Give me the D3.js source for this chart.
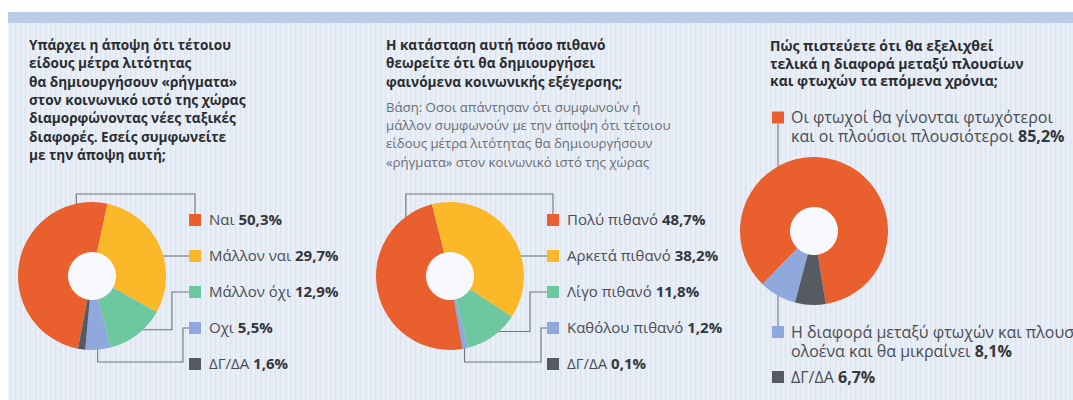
<!DOCTYPE html>
<html>
<head>
<meta charset="utf-8">
<script src="https://cdn.jsdelivr.net/npm/d3@7"></script>
<style>
  body { margin: 0; background: #fff; }
  svg { display: block; }
</style>
</head>
<body>
<script>
// data
var q1Title = ["Υπάρχει η άποψη ότι τέτοιου", "είδους μέτρα λιτότητας", "θα δημιουργήσουν «ρήγματα»",
               "στον κοινωνικό ιστό της χώρας", "διαμορφώνοντας νέες ταξικές", "διαφορές. Εσείς συμφωνείτε",
               "με την άποψη αυτή;"];
var q1Labels = ["Ναι", "Μάλλον ναι", "Μάλλον όχι", "Οχι", "ΔΓ/ΔΑ"];
var q1Values = [50.3, 29.7, 12.9, 5.5, 1.6];

var q2Title = ["Η κατάσταση αυτή πόσο πιθανό", "θεωρείτε ότι θα δημιουργήσει", "φαινόμενα κοινωνικής εξέγερσης;"];
var q2Note = ["Βάση: Οσοι απάντησαν ότι συμφωνούν ή", "μάλλον συμφωνούν με την άποψη ότι τέτοιου",
              "είδους μέτρα λιτότητας θα δημιουργήσουν", "«ρήγματα» στον κοινωνικό ιστό της χώρας"];
var q2Labels = ["Πολύ πιθανό", "Αρκετά πιθανό", "Λίγο πιθανό", "Καθόλου πιθανό", "ΔΓ/ΔΑ"];
var q2Values = [48.7, 38.2, 11.8, 1.2, 0.1];

var q3Title = ["Πώς πιστεύετε ότι θα εξελιχθεί", "τελικά η διαφορά μεταξύ πλουσίων", "και φτωχών τα επόμενα χρόνια;"];
var q3Labels = [["Οι φτωχοί θα γίνονται φτωχότεροι", "και οι πλούσιοι πλουσιότεροι"],
                ["Η διαφορά μεταξύ φτωχών και πλουσίων", "ολοένα και θα μικραίνει"],
                ["ΔΓ/ΔΑ"]];
var q3Values = [85.2, 8.1, 6.7];

var colors5 = ["#e9602e", "#fbb829", "#6dc79f", "#8fa9dd", "#565b61"];
var colors3 = ["#e9602e", "#8fa9dd", "#565b61"];

var width = 1073, height = 400;
var R = 74, r0 = 24;
var font = "'Open Sans', sans-serif";
var gr = d3.formatLocale({decimal: ",", thousands: ".", grouping: [3], currency: ["", "€"]});
var fmt = function(v) { return gr.format(".1f")(v) + "%"; };
var rad = Math.PI / 180;

var svg = d3.select("body").append("svg")
    .attr("width", width)
    .attr("height", height);

// striped paper background
var pat = svg.append("defs").append("pattern")
    .attr("id", "stripes")
    .attr("patternUnits", "userSpaceOnUse")
    .attr("width", 5).attr("height", 10);
pat.append("rect").attr("width", 5).attr("height", 10).attr("fill", "#e6ecf5");
pat.append("rect").attr("x", 0).attr("width", 1).attr("height", 10).attr("fill", "#dde5f0");
pat.append("rect").attr("x", 3).attr("width", 1).attr("height", 10).attr("fill", "#edf1f8");

svg.append("rect").attr("x", 8).attr("y", 12).attr("width", width - 8).attr("height", height - 12)
    .attr("fill", "url(#stripes)");
svg.append("rect").attr("x", 8).attr("y", 12).attr("width", width - 8).attr("height", 11)
    .attr("fill", "#bacbe6");

var arc = d3.arc().innerRadius(r0).outerRadius(R);

function titleBlock(x, y, lines, step, size, weight, color) {
  var t = svg.append("text")
      .attr("x", x).attr("y", y)
      .attr("font-family", font)
      .attr("font-size", size)
      .attr("font-weight", weight)
      .attr("fill", color);
  t.selectAll("tspan").data(lines).join("tspan")
      .attr("x", x)
      .attr("y", function(d, i) { return y + i * step; })
      .text(function(d) { return d; });
}

function legendText(x, y, lines, value, size, step) {
  var t = svg.append("text")
      .attr("font-family", font)
      .attr("font-size", size)
      .attr("fill", "#4a4d52");
  lines.forEach(function(l, i) {
    t.append("tspan").attr("x", x).attr("y", y + i * step).attr("dy", "0.35em").text(l + " ");
    if (i == lines.length - 1) {
      t.append("tspan").attr("font-weight", 700).attr("fill", "#33363a").text(fmt(value));
    }
  });
}

var line = svg.append("g")
    .attr("fill", "none")
    .attr("stroke", "#70747c")
    .attr("stroke-width", 1.1);

function donut(cx, cy, arcs, colors) {
  var g = svg.append("g").attr("transform", "translate(" + cx + "," + cy + ")");
  g.append("circle").attr("r", r0 + 1).attr("fill", "#f7f9fc");
  g.selectAll("path").data(arcs).join("path")
      .attr("d", arc)
      .attr("fill", function(d, i) { return colors[i]; });
}

// first two panels share the same layout: donut + 5 legend rows
function fivePanel(cx, cy, start, labels, values, lx) {
  var pie = d3.pie().sort(null).startAngle(start * rad).endAngle(start * rad + 2 * Math.PI);
  var arcs = pie(values);
  donut(cx, cy, arcs, colors5);

  var ly = d3.scaleLinear().domain([0, 4]).range([220, 364]);
  var sq = 12, sx = lx;

  svg.append("g").selectAll("rect").data(values).join("rect")
      .attr("x", sx).attr("y", function(d, i) { return ly(i) - sq / 2; })
      .attr("width", sq).attr("height", sq)
      .attr("fill", function(d, i) { return colors5[i]; });

  labels.forEach(function(l, i) { legendText(sx + 20, ly(i), [l], values[i], 15, 19); });

  var pt = function(a, rr) { return [cx + rr * Math.sin(a), cy - rr * Math.cos(a)]; };
  var mid = function(d) { return (d.startAngle + d.endAngle) / 2; };

  // leader 0: from top of the biggest slice, over the top, down into the box
  var a0 = arcs[0].endAngle - 25 * rad;
  var p0 = pt(a0, R - 4);
  var top = cy - R - 8;
  line.append("path").attr("d", d3.line()([p0, [p0[0], top], [sx + sq / 2, top], [sx + sq / 2, ly(0) - sq / 2]]));

  // leader 1: straight across
  var dy1 = ly(1) - cy;
  var x1 = cx + Math.sqrt(R * R - dy1 * dy1) - 6;
  line.append("path").attr("d", d3.line()([[x1, ly(1)], [sx, ly(1)]]));

  // leader 2: out of the slice then up
  var p2 = pt(mid(arcs[2]), R - 6);
  line.append("path").attr("d", d3.line()([p2, [sx - 17, p2[1]], [sx - 17, ly(2)], [sx, ly(2)]]));

  // leader 3: down under the donut, then up
  var p3 = pt(mid(arcs[3]), R - 4);
  var bot = cy + R + 12;
  line.append("path").attr("d", d3.line()([p3, [p3[0], bot], [sx - 6, bot], [sx - 6, ly(3)], [sx, ly(3)]]));
}

titleBlock(29, 50, q1Title, 18.3, 13.6, 700, "#2a2c30");
fivePanel(92, 276, -169, q1Labels, q1Values, 189);

titleBlock(386, 50, q2Title, 18.3, 13.6, 700, "#2a2c30");
titleBlock(386, 112, q2Note, 18.2, 13.2, 400, "#6a6d73");
fivePanel(450, 276, -189.4, q2Labels, q2Values, 547);

// third panel: counter-clockwise donut, wrapped legend
titleBlock(770, 51, q3Title, 17.5, 14, 700, "#2a2c30");
(function() {
  var cx = 814, cy = 231, start = 170.8;
  var pie = d3.pie().sort(null).startAngle(start * rad).endAngle(start * rad - 2 * Math.PI);
  var arcs = pie(q3Values);
  donut(cx, cy, arcs, colors3);

  var sx = 772, sq = 12;
  var ly = [117.5, 332, 377];
  svg.append("g").selectAll("rect").data(q3Values).join("rect")
      .attr("x", sx).attr("y", function(d, i) { return ly[i] - sq / 2; })
      .attr("width", sq).attr("height", sq)
      .attr("fill", function(d, i) { return colors3[i]; });
  q3Labels.forEach(function(l, i) { legendText(sx + 19, ly[i], l, q3Values[i], 16, 19); });

  var lx = sx + sq / 2, dx = lx - cx;
  var h = Math.sqrt(R * R - dx * dx);
  line.append("path").attr("d", d3.line()([[lx, ly[0] + sq / 2], [lx, cy - h + 14]]));
  line.append("path").attr("d", d3.line()([[lx, cy + h - 6], [lx, ly[1] - sq / 2]]));
})();
</script>
</body>
</html>
